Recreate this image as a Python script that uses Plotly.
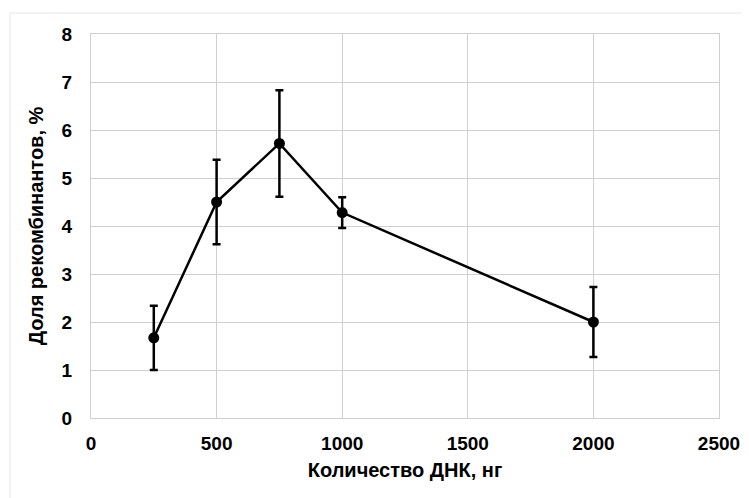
import plotly.graph_objects as go

dna_ng = [250, 500, 750, 1000, 2000]
share_pct = [1.67, 4.50, 5.72, 4.28, 2.00]
err_pct = [0.67, 0.88, 1.11, 0.32, 0.73]
x_ticks = [0, 500, 1000, 1500, 2000, 2500]
y_ticks = [0, 1, 2, 3, 4, 5, 6, 7, 8]

fig = go.Figure()
fig.add_trace(go.Scatter(
    x=dna_ng, y=share_pct, mode="lines+markers",
    line=dict(color="black", width=2.5),
    marker=dict(color="black", size=11),
    error_y=dict(type="data", array=err_pct, visible=True, color="black", thickness=2.5, width=4),
    showlegend=False,
))

font = "Liberation Sans, Arial, sans-serif"
fig.update_layout(
    width=749, height=498,
    margin=dict(l=83, r=38, t=26, b=88),
    paper_bgcolor="white", plot_bgcolor="white",
    font=dict(family=font, color="black"),
    xaxis=dict(
        range=[0, 2500], tickvals=x_ticks, ticktext=[f"<b>{v}</b>" for v in x_ticks],
        showgrid=True, gridcolor="#d0d0d0", gridwidth=1.3,
        zeroline=False, showline=True, linecolor="#d0d0d0", linewidth=1.3, mirror=True,
        ticks="", ticklabelstandoff=8, tickfont=dict(size=19, family=font, color="black"),
        automargin=False,
        title=dict(text="<b>Количество ДНК, нг</b>", font=dict(size=20, family=font, color="black"), standoff=10),
    ),
    yaxis=dict(
        range=[0, 8], tickvals=y_ticks, ticktext=[f"<b>{v}</b>" for v in y_ticks],
        showgrid=True, gridcolor="#d0d0d0", gridwidth=1.3,
        zeroline=False, showline=True, linecolor="#d0d0d0", linewidth=1.3, mirror=True,
        ticks="", ticklabelstandoff=14, tickfont=dict(size=19, family=font, color="black"),
        automargin=False,
        title=dict(text="<b>Доля рекомбинантов, %</b>", font=dict(size=20, family=font, color="black"), standoff=12),
    ),
    shapes=[dict(type="rect", xref="paper", yref="paper", x0=-81/628, x1=1.1, y0=-0.3, y1=1 + 21/384,
                 line=dict(color="#e6e6e6", width=1), fillcolor="rgba(0,0,0,0)", layer="below")],
)

fig.write_html("out.html")
